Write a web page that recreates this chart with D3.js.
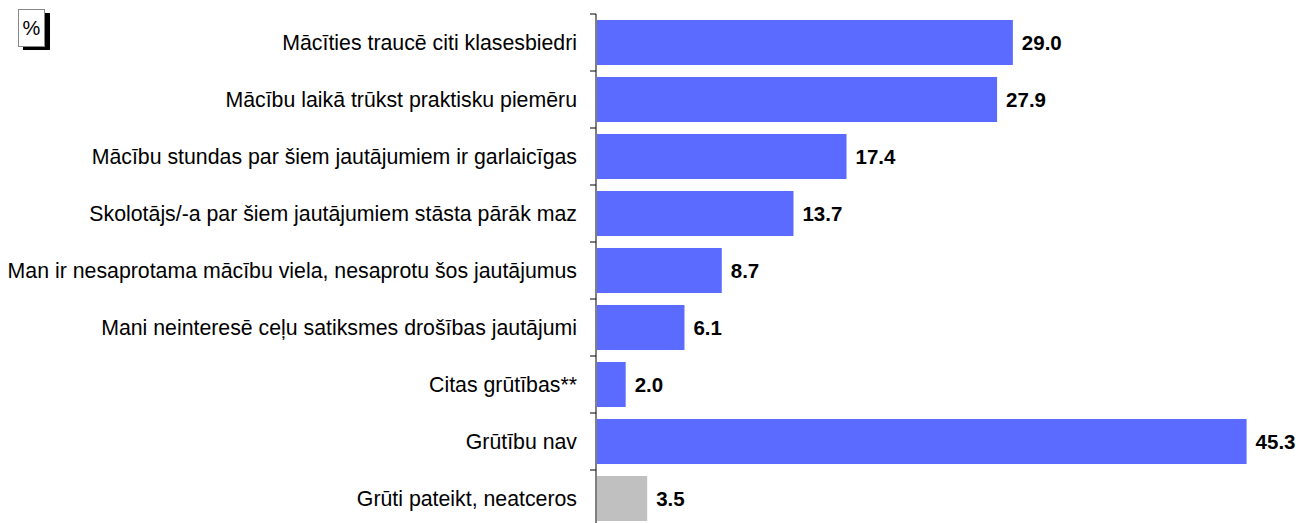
<!DOCTYPE html>
<html>
<head>
<meta charset="utf-8">
<script src="https://cdn.jsdelivr.net/npm/d3@7"></script>
<style>
  body { margin: 0; background: #fff; }
  svg text { font-family: "Liberation Sans", Arial, sans-serif; }
</style>
</head>
<body>
<svg class="barsvg" width="1298" height="523"></svg>
<script>
var categories = [
    "Mācīties traucē citi klasesbiedri",
    "Mācību laikā trūkst praktisku piemēru",
    "Mācību stundas par šiem jautājumiem ir garlaicīgas",
    "Skolotājs/-a par šiem jautājumiem stāsta pārāk maz",
    "Man ir nesaprotama mācību viela, nesaprotu šos jautājumus",
    "Mani neinteresē ceļu satiksmes drošības jautājumi",
    "Citas grūtības**",
    "Grūtību nav",
    "Grūti pateikt, neatceros"
];
var values = [29.0, 27.9, 17.4, 13.7, 8.7, 6.1, 2.0, 45.3, 3.5];
var barColors = ["#5b6bff", "#5b6bff", "#5b6bff", "#5b6bff", "#5b6bff", "#5b6bff", "#5b6bff", "#5b6bff", "#c0c0c0"];

var svg = d3.select(".barsvg");

var xScale = d3.scaleLinear().domain([0, 50]).range([597, 1314]);
var yScale = d3.scaleBand().domain(categories).range([14, 527]).paddingInner(0.21).paddingOuter(0.105);

// bars
svg.selectAll("rect.bar")
    .data(values)
    .enter()
    .append("rect")
    .attr("class", "bar")
    .attr("x", xScale(0))
    .attr("y", function(d, i) { return yScale(categories[i]); })
    .attr("width", function(d) { return xScale(d) - xScale(0); })
    .attr("height", yScale.bandwidth())
    .style("fill", function(d, i) { return barColors[i]; });

// value labels
svg.selectAll("text.val")
    .data(values)
    .enter()
    .append("text")
    .attr("class", "val")
    .attr("x", function(d) { return xScale(d) + 9; })
    .attr("y", function(d, i) { return yScale(categories[i]) + yScale.bandwidth() / 2; })
    .attr("dy", "0.35em")
    .style("font-size", "20.5px")
    .style("font-weight", "bold")
    .text(function(d) { return d.toFixed(1); });

// category axis
var axis = svg.append("g")
    .attr("transform", "translate(596,0)");

axis.append("line")
    .attr("x1", 0).attr("x2", 0)
    .attr("y1", 14).attr("y2", 527)
    .attr("stroke", "#000");

var tickYs = d3.range(categories.length + 1).map(function(i) { return 14 + i * (513 / categories.length); });
axis.selectAll("line.tick")
    .data(tickYs)
    .enter()
    .append("line")
    .attr("class", "tick")
    .attr("x1", -6).attr("x2", 0)
    .attr("y1", function(d) { return d; })
    .attr("y2", function(d) { return d; })
    .attr("stroke", "#000");

axis.selectAll("text.cat")
    .data(categories)
    .enter()
    .append("text")
    .attr("class", "cat")
    .attr("x", -19)
    .attr("y", function(d) { return yScale(d) + yScale.bandwidth() / 2; })
    .attr("dy", "0.35em")
    .attr("text-anchor", "end")
    .style("font-size", "21.3px")
    .text(function(d) { return d; });

// % box with shadow
svg.append("rect").attr("x", 23).attr("y", 13).attr("width", 27).attr("height", 37).style("fill", "#000");
svg.append("rect").attr("x", 18.5).attr("y", 9.5).attr("width", 26).attr("height", 37)
    .style("fill", "#fff").style("stroke", "#888").style("stroke-width", 1);
svg.append("text").attr("x", 31.5).attr("y", 35).attr("text-anchor", "middle")
    .style("font-size", "20px").text("%");
</script>
</body>
</html>
